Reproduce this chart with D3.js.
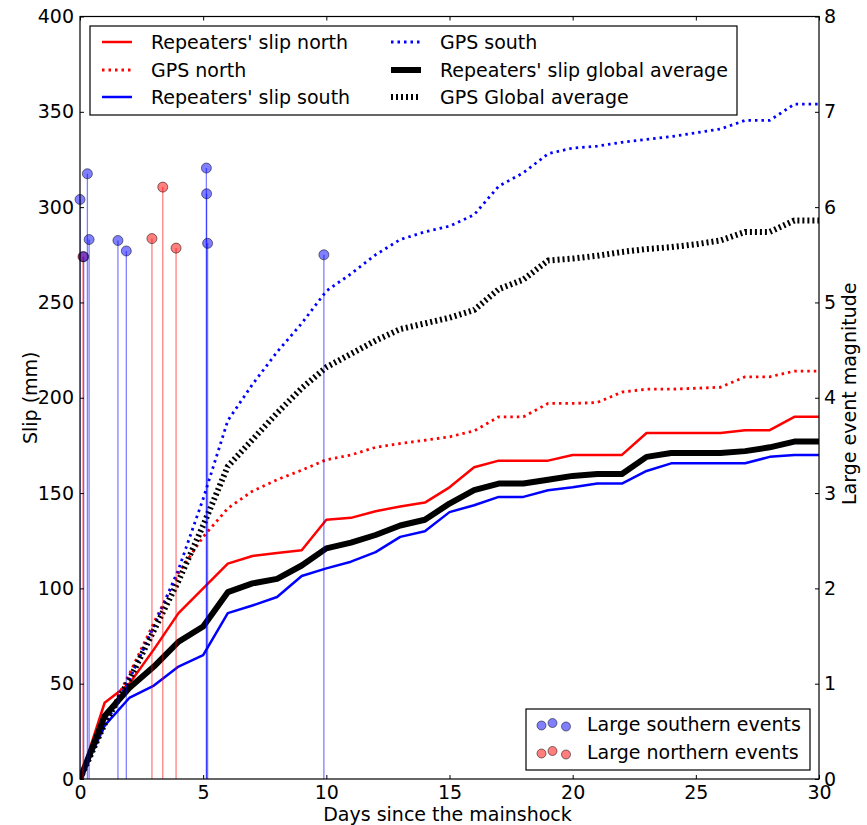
<!DOCTYPE html>
<html>
<head>
<meta charset="utf-8">
<script src="https://cdn.jsdelivr.net/npm/d3@7"></script>
<style>
  body { margin: 0; background: #fff; }
  text { font-family: "DejaVu Sans", sans-serif; }
</style>
</head>
<body>
<div id="chart"></div>
<script>
// days since the mainshock (one sample per day)
const days = [0,1,2,3,4,5,6,7,8,9,10,11,12,13,14,15,16,17,18,19,20,21,22,23,24,25,26,27,28,29,30];

// slip series (mm)
const repNorth = [0,40,50,68,87,100,113,117,118.5,120,136,137,140.5,143,145,153,163.5,167,167,167,170,170,170,181.5,181.5,181.5,181.5,183,183,190,190];
const repSouth = [0,28,42.5,49,59,65,87,91,95.5,106.5,110.5,114,119,127,130,140,143.6,148,148,151.5,153,155,155,161.6,165.6,165.6,165.6,165.6,169,170,170];
const repAvg   = [0,33,47.7,59,72,80,98,102.6,105,112,121,124,128,133,136,144.5,151.5,155,155,157,159,160,160,169,171,171,171,172,174,177,177];
const gpsNorth = [0,30,55,82,108,127,142,151,157,162,167.5,170,174,176,177.7,179.5,182.6,190,190,197,197,197.5,203,204.5,204.5,205,205.5,211,211,214,214];
const gpsSouth = [0,28,52,80,110,147,188,207,224,239,256,265,275,283,287,290,296,311,318,328,331,332,334,335.5,337,339,341,345.5,345.5,354,354];
const gpsAvg   = [0,29,52,78,104,133,164,178,192,205,216,223,230,236,239,242,246,257,262,272,273,274.5,276.5,278,279,280.5,282.5,287,287,293,293];

// large events: day, magnitude
const southDays = [0.0, 0.15, 0.3, 0.37, 1.54, 1.88, 5.13, 5.14, 5.18, 9.9];
const southMag  = [6.08, 5.48, 6.35, 5.66, 5.65, 5.54, 6.41, 6.14, 5.62, 5.5];
const northDays = [0.12, 2.92, 3.36, 3.9];
const northMag  = [5.48, 5.67, 6.21, 5.57];

const xTicks = [0,5,10,15,20,25,30];
const yTicks = [0,50,100,150,200,250,300,350,400];
const y2Ticks = [0,1,2,3,4,5,6,7,8];

const W = 867, H = 825;
const margin = {top: 16.5, right: 48, bottom: 46, left: 80};
const width = W - margin.left - margin.right,
      height = H - margin.top - margin.bottom;

const svg = d3.select("#chart").append("svg")
    .attr("width", W).attr("height", H);
const g = svg.append("g")
    .attr("transform", `translate(${margin.left},${margin.top})`);

const x = d3.scaleLinear().domain([0, 30]).range([0, width]);
const y = d3.scaleLinear().domain([0, 400]).range([height, 0]);
const y2 = d3.scaleLinear().domain([0, 8]).range([height, 0]);

// clip to the axes box
g.append("clipPath").attr("id", "clip")
  .append("rect").attr("width", width).attr("height", height);

const plot = g.append("g").attr("clip-path", "url(#clip)");

const line = d3.line().x((d, i) => x(days[i])).y(d => y(d));

const series = [
  {name: "Repeaters' slip north", v: repNorth, color: "#ff0000", w: 2.5, dash: null},
  {name: "GPS north", v: gpsNorth, color: "#ff0000", w: 2.8, dash: "2.5,4"},
  {name: "Repeaters' slip south", v: repSouth, color: "#0000ff", w: 2.5, dash: null},
  {name: "GPS south", v: gpsSouth, color: "#0000ff", w: 2.8, dash: "2.5,4"},
  {name: "Repeaters' slip global average", v: repAvg, color: "#000000", w: 6, dash: null},
  {name: "GPS Global average", v: gpsAvg, color: "#000000", w: 6, dash: "2,3"}
];

series.forEach(s => {
  plot.append("path")
    .datum(s.v)
    .attr("d", line)
    .attr("fill", "none")
    .attr("stroke", s.color)
    .attr("stroke-width", s.w)
    .attr("stroke-dasharray", s.dash)
    .attr("stroke-linejoin", "round");
});

// event stems + markers (right axis)
function drawEvents(dd, mm, color) {
  plot.selectAll(null)
    .data(dd)
    .join("line")
      .attr("x1", d => x(d)).attr("x2", d => x(d))
      .attr("y1", height)
      .attr("y2", (d, i) => y2(mm[i]))
      .attr("stroke", color)
      .attr("stroke-opacity", 0.5)
      .attr("stroke-width", 1.3);
}
function drawMarkers(dd, mm, color) {
  g.selectAll(null)
    .data(dd)
    .join("circle")
      .attr("cx", d => x(d))
      .attr("cy", (d, i) => y2(mm[i]))
      .attr("r", 5)
      .attr("fill", color)
      .attr("fill-opacity", 0.5)
      .attr("stroke", "#000")
      .attr("stroke-opacity", 0.5)
      .attr("stroke-width", 1);
}
drawEvents(northDays, northMag, "#ff0000");
drawEvents(southDays, southMag, "#0000ff");
drawMarkers(northDays, northMag, "#ff0000");
drawMarkers(southDays, southMag, "#0000ff");

// frame
g.append("rect").attr("width", width).attr("height", height)
  .attr("fill", "none").attr("stroke", "#000").attr("stroke-width", 1.2);

// inward ticks on all four sides (classic matplotlib look)
const tl = 4;
const fs = 19;
const bottomAxis = g.append("g").attr("transform", `translate(0,${height})`)
  .call(d3.axisBottom(x).tickValues(xTicks).tickSizeInner(-tl).tickSizeOuter(0).tickPadding(7));
const topAxis = g.append("g")
  .call(d3.axisTop(x).tickValues(xTicks).tickSizeInner(-tl).tickSizeOuter(0).tickFormat(""));
const leftAxis = g.append("g")
  .call(d3.axisLeft(y).tickValues(yTicks).tickSizeInner(-tl).tickSizeOuter(0).tickPadding(6));
const rightAxis = g.append("g").attr("transform", `translate(${width},0)`)
  .call(d3.axisRight(y2).tickValues(y2Ticks).tickSizeInner(-tl).tickSizeOuter(0).tickPadding(5));

[bottomAxis, topAxis, leftAxis, rightAxis].forEach(a => {
  a.select(".domain").remove();
  a.selectAll("line").attr("stroke", "#000").attr("stroke-width", 1);
  a.selectAll("text").attr("font-size", fs).attr("fill", "#000")
    .attr("font-family", "DejaVu Sans, sans-serif");
});

// axis titles
svg.append("text")
  .attr("x", margin.left + width / 2 - 2).attr("y", 821)
  .attr("text-anchor", "middle").attr("font-size", fs)
  .text("Days since the mainshock");
svg.append("text")
  .attr("transform", `translate(37,${margin.top + height / 2}) rotate(-90)`)
  .attr("text-anchor", "middle").attr("font-size", fs)
  .text("Slip (mm)");
svg.append("text")
  .attr("transform", `translate(856,${margin.top + height / 2 - 4}) rotate(-90)`)
  .attr("text-anchor", "middle").attr("font-size", fs)
  .text("Large event magnitude");

// legend for the slip series
const leg = svg.append("g");
leg.append("rect")
  .attr("x", 90).attr("y", 26).attr("width", 647).attr("height", 89)
  .attr("fill", "#fff").attr("stroke", "#000").attr("stroke-width", 1.2);
const legPos = [
  {lx: 102, tx: 151, y: 42}, {lx: 102, tx: 151, y: 70}, {lx: 102, tx: 151, y: 97},
  {lx: 391, tx: 440, y: 42}, {lx: 391, tx: 440, y: 70}, {lx: 391, tx: 440, y: 97}
];
series.forEach((s, i) => {
  const p = legPos[i];
  leg.append("line")
    .attr("x1", p.lx).attr("x2", p.lx + 30)
    .attr("y1", p.y).attr("y2", p.y)
    .attr("stroke", s.color).attr("stroke-width", s.w)
    .attr("stroke-dasharray", s.dash);
  leg.append("text")
    .attr("x", p.tx).attr("y", p.y).attr("dy", "0.35em")
    .attr("font-size", fs).text(s.name);
});

// legend for events
const leg2 = svg.append("g");
leg2.append("rect")
  .attr("x", 526).attr("y", 709).attr("width", 284).attr("height", 61)
  .attr("fill", "#fff").attr("stroke", "#000").attr("stroke-width", 1.2);
const evLegend = [
  {label: "Large southern events", color: "#0000ff", y: 724},
  {label: "Large northern events", color: "#ff0000", y: 752}
];
const dotDx = [541.5, 552.5, 566];
const dotDy = [1.5, -1, 2.5];
evLegend.forEach(e => {
  dotDx.forEach((dx, j) => {
    leg2.append("circle")
      .attr("cx", dx).attr("cy", e.y + dotDy[j]).attr("r", 4.5)
      .attr("fill", e.color).attr("fill-opacity", 0.5)
      .attr("stroke", "#000").attr("stroke-opacity", 0.5);
  });
  leg2.append("text")
    .attr("x", 587).attr("y", e.y).attr("dy", "0.35em")
    .attr("font-size", fs).text(e.label);
});
</script>
</body>
</html>
